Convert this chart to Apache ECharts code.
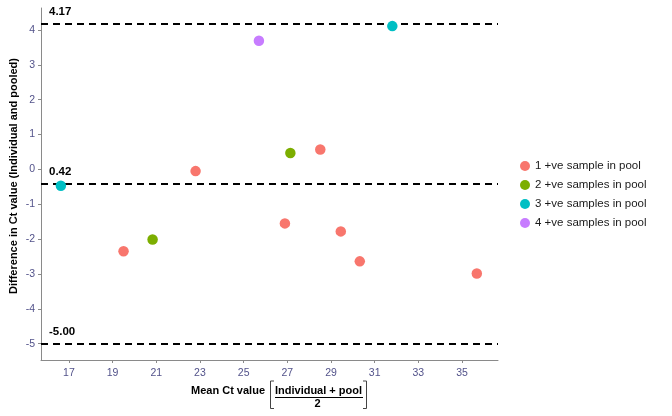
<!DOCTYPE html>
<html>
<head>
<meta charset="utf-8">
<script src="https://cdn.jsdelivr.net/npm/echarts@6/dist/echarts.min.js"></script>
<style>html,body{margin:0;padding:0;background:#fff;}#c{width:672px;height:416px;}</style>
</head>
<body>
<div id="c"></div>
<script>
// ---- data ----
const groupNames = ['1 +ve sample in pool', '2 +ve samples in pool', '3 +ve samples in pool', '4 +ve samples in pool'];
const g1x = [19.5, 22.8, 26.89, 28.51, 29.45, 30.32, 35.68];
const g1y = [-2.35, -0.05, -1.55, 0.57, -1.78, -2.64, -2.99];
const g2x = [20.83, 27.14];
const g2y = [-2.01, 0.47];
const g3x = [16.63, 31.81];
const g3y = [-0.47, 4.11];
const g4x = [25.7];
const g4y = [3.69];
const refLineValues = [4.17, -0.42, -5.00];
const refLineLabels = ['4.17', '0.42', '-5.00'];
const xTicks = [17, 19, 21, 23, 25, 27, 29, 31, 33, 35];
const yTicks = [-5, -4, -3, -2, -1, 0, 1, 2, 3, 4];

const colors = ['#F8766D', '#7CAE00', '#00BFC4', '#C77CFF'];
const FONT = '"Liberation Sans", Arial, sans-serif';
const tickColor = '#52528a';

function zip(xs, ys) { return xs.map((x, i) => [x, ys[i]]); }
const groups = [zip(g1x, g1y), zip(g2x, g2y), zip(g3x, g3y), zip(g4x, g4y)];

const chart = echarts.init(document.getElementById('c'), null, {renderer: 'canvas'});

const series = groups.map((d, i) => ({
  name: groupNames[i],
  type: 'scatter',
  data: d,
  symbol: 'circle',
  symbolSize: 10.5,
  itemStyle: {color: colors[i], opacity: 1},
  z: 5
}));

series.push({
  name: 'ref',
  type: 'line',
  data: [],
  silent: true,
  markLine: {
    silent: true,
    symbol: ['none', 'none'],
    lineStyle: {color: '#000', width: 2, type: [7, 5]},
    label: {
      show: true,
      position: 'insideStartTop',
      distance: [8, 6],
      fontFamily: FONT,
      fontWeight: 'bold',
      fontSize: 11.5,
      color: '#000'
    },
    data: refLineValues.map((v, i) => ({yAxis: v, label: {formatter: refLineLabels[i]}}))
  },
  z: 3
});

chart.setOption({
  animation: false,
  backgroundColor: '#fff',
  grid: {left: 41, right: 174, top: 8, bottom: 56},
  xAxis: {
    type: 'value',
    min: 15.72, max: 36.65,
    splitLine: {show: false},
    axisLine: {show: true, onZero: false, lineStyle: {color: '#8a8a8a', width: 1}},
    axisTick: {show: true, customValues: xTicks, length: 3, lineStyle: {color: '#8a8a8a'}},
    axisLabel: {customValues: xTicks, color: tickColor, fontFamily: FONT, fontSize: 10.5, margin: 8}
  },
  yAxis: {
    type: 'value',
    min: -5.47, max: 4.63,
    splitLine: {show: false},
    axisLine: {show: true, onZero: false, lineStyle: {color: '#8a8a8a', width: 1}},
    axisTick: {show: true, customValues: yTicks, length: 3, lineStyle: {color: '#8a8a8a'}},
    axisLabel: {customValues: yTicks, color: tickColor, fontFamily: FONT, fontSize: 10.5, margin: 6}
  },
  legend: {
    data: groupNames,
    orient: 'vertical',
    left: 515, top: 155,
    icon: 'circle',
    itemWidth: 10, itemHeight: 10,
    itemGap: 7,
    textStyle: {fontFamily: FONT, fontSize: 11.5, color: '#1a1a1a'}
  },
  graphic: [
    {type: 'text', x: 14, y: 176, rotation: Math.PI / 2,
     style: {text: 'Difference in Ct value (Individual and pooled)', font: 'bold 11px ' + FONT, fill: '#000', align: 'center', verticalAlign: 'middle'}},
    {type: 'text', x: 265, y: 391,
     style: {text: 'Mean Ct value', font: 'bold 11px ' + FONT, fill: '#000', align: 'right', verticalAlign: 'middle'}},
    {type: 'polyline', shape: {points: [[274, 381], [270.5, 381], [270.5, 408.5], [274, 408.5]]}, style: {stroke: '#444', lineWidth: 1, fill: null}},
    {type: 'polyline', shape: {points: [[363, 381], [366.5, 381], [366.5, 408.5], [363, 408.5]]}, style: {stroke: '#444', lineWidth: 1, fill: null}},
    {type: 'text', x: 318.5, y: 390.5,
     style: {text: 'Individual + pool', font: 'bold 11px ' + FONT, fill: '#000', align: 'center', verticalAlign: 'middle'}},
    {type: 'line', shape: {x1: 275, y1: 397.5, x2: 363, y2: 397.5}, style: {stroke: '#000', lineWidth: 1.2}},
    {type: 'text', x: 317.5, y: 404,
     style: {text: '2', font: 'bold 11px ' + FONT, fill: '#000', align: 'center', verticalAlign: 'middle'}}
  ],
  series: series
});
</script>
</body>
</html>
